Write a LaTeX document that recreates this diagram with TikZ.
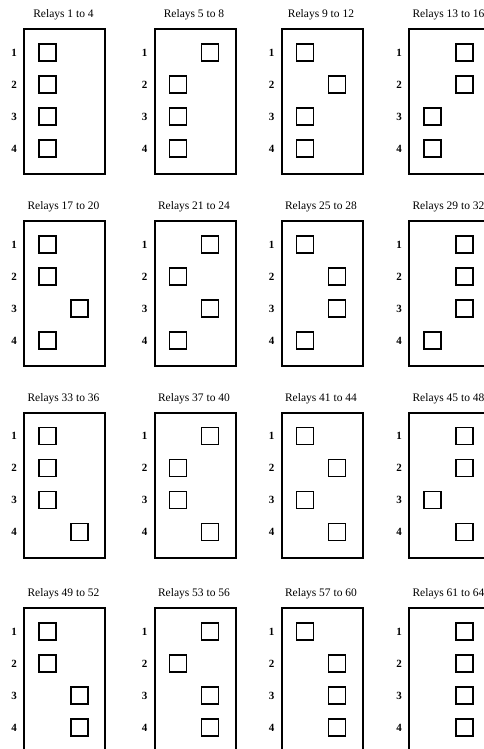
\documentclass[tikz,border=0pt]{standalone}
\usepackage{fontspec}
\setmainfont{Liberation Serif}
\usetikzlibrary{positioning}

\tikzset{
  relaybox/.style={draw,line width=2pt,minimum width=81pt,minimum height=145pt,anchor=north west,inner sep=0pt},
  relaysq/.style={draw,line width=1.8pt,minimum size=17pt,inner sep=0pt},
  relaytitle/.style={font=\fontsize{11.5}{13}\selectfont},
  relaynum/.style={font=\fontsize{11}{13}\selectfont\bfseries}
}

\begin{document}
\begin{tikzpicture}[x=1pt,y=-1pt]
\useasboundingbox (0,0) rectangle (484,749);
% one panel per group of four relays, square on the right = relay on
\foreach \cx [count=\c from 0] in {23,153.5,280.5,408}{
 \foreach \ry [count=\r from 0] in {28,220,411.5,607}{
  \pgfmathtruncatemacro\k{4*\r+\c}
  \pgfmathtruncatemacro\lo{4*\k+1}
  \pgfmathtruncatemacro\hi{4*\k+4}
  \node[relaybox] (box\k) at (\cx,\ry) {};
  \node[relaytitle] (title\k) at (\cx+40.5,\ry-13) {Relays \lo\ to \hi};
  \foreach \j in {0,...,3}{
   \pgfmathtruncatemacro\bit{mod(floor(\k/2^\j),2)}
   \pgfmathtruncatemacro\n{\j+1}
   \node[relaynum] (num\k-\n) at (\cx-9,\ry+24.5+32*\j) {\n};
   \node[relaysq] (sq\k-\n) at (\cx+24.5+32*\bit,\ry+24.5+32*\j) {};
  }
 }
}
\end{tikzpicture}
\end{document}
